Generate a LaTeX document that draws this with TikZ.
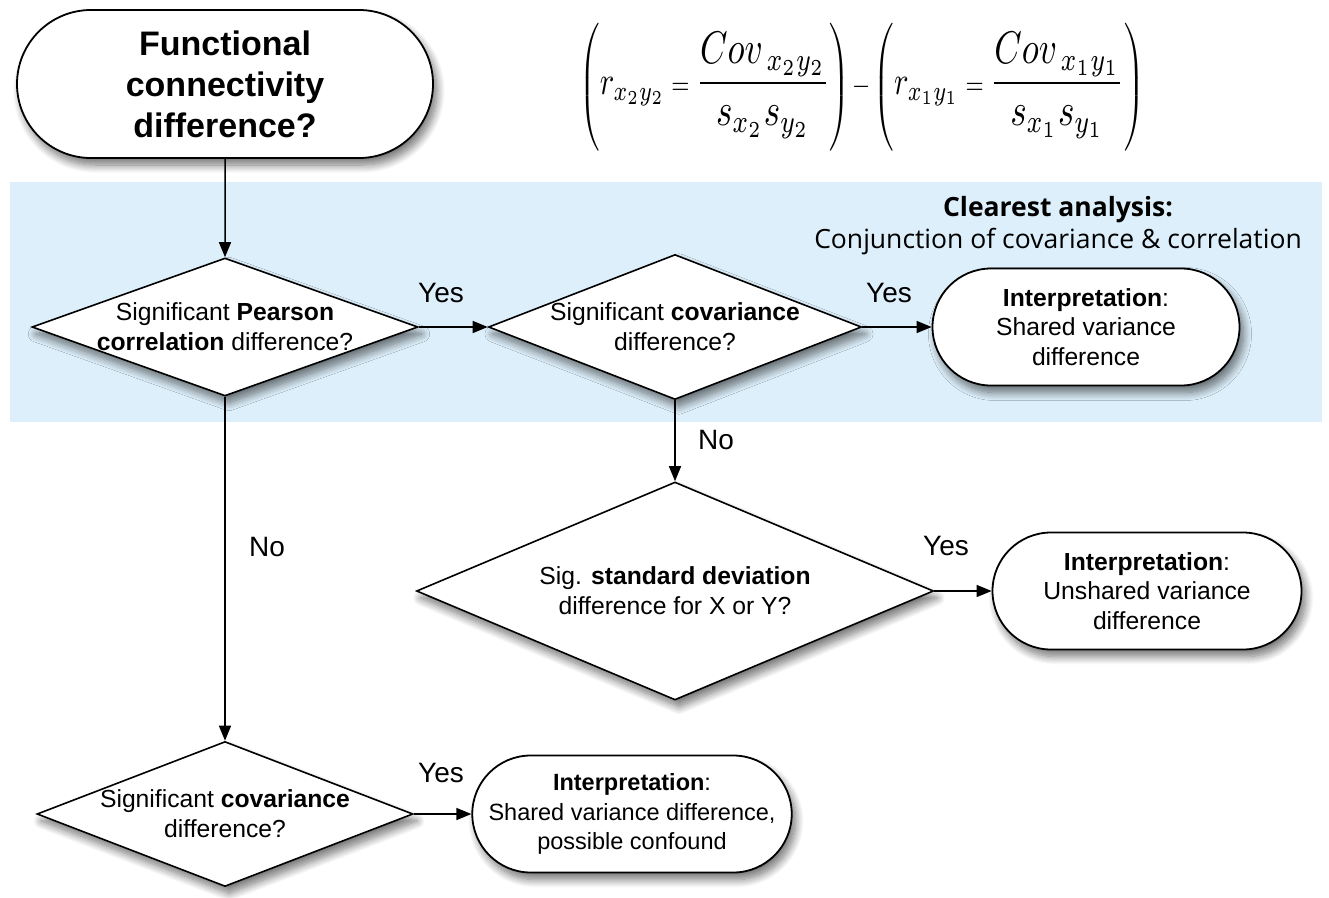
\documentclass[tikz,border=0pt]{standalone}
\usepackage[no-math]{fontspec}
\usepackage{graphicx}
\setmainfont{Liberation Sans}
\newfontfamily\opensans{Open Sans}
\usetikzlibrary{shapes.geometric,shapes.misc,arrows.meta,shadows.blur}
\definecolor{band}{RGB}{221,239,250}
\newcommand{\myfrac}[2]{\scalebox{1.5}{$\displaystyle\frac{#1}{#2}$}}
\newcommand{\myr}[1]{\scalebox{1.3}{$r_{#1}$}}
\begin{document}
\begin{tikzpicture}[x=1pt,y=-1pt,
  shd/.style={blur shadow={shadow xshift=4pt,shadow yshift=-7pt,shadow blur steps=12,shadow blur radius=8pt,shadow opacity=55}},
  pill/.style={rounded rectangle, draw=black, line width=1.8pt, fill=white, shd, inner sep=0pt, align=center, font=\fontsize{24.7}{29.5}\selectfont},
  dec/.style={diamond, draw=black, line width=1.6pt, fill=white, shd, inner sep=0pt},
  dtext/.style={align=center, font=\fontsize{24.7}{30}\selectfont},
  arr/.style={line width=1.5pt, -{Triangle[length=15pt,width=12pt]}},
  lbl/.style={font=\fontsize{28}{30}\selectfont}
]
\useasboundingbox (0,0) rectangle (1329,897);
\fill[band] (10,182) rectangle (1322,422);

% title and formula
\node[pill, minimum width=416pt, minimum height=148pt, font=\bfseries\fontsize{34}{41}\selectfont] (start) at (225,84)
  {Functional\\connectivity\\difference?};
\node[inner sep=0pt] (eq) at (862,87) {\resizebox*{565pt}{128pt}{$\displaystyle
  \left(\rule[-17.5pt]{0pt}{40pt} \myr{x_2y_2} = \myfrac{Cov_{\,x_2y_2}}{s_{x_2}s_{y_2}}\right)\mkern-2mu - \mkern-2mu\left(\rule[-17.5pt]{0pt}{40pt} \myr{x_1y_1}=\myfrac{Cov_{\,x_1y_1}}{s_{x_1}s_{y_1}}\right)$}};

\node[font=\opensans\fontsize{26.5}{32}\selectfont, align=center] (clear) at (1058,226)
  {\textbf{Clearest analysis:}\\Conjunction of covariance \& correlation};

% decisions
\node[dec, minimum width=386pt, minimum height=138pt,
  label={[dtext]center:{Significant \textbf{Pearson}\\\textbf{correlation} difference?}}] (d1) at (225,327) {};
\node[dec, minimum width=373pt, minimum height=145pt,
  label={[dtext]center:{Significant \textbf{covariance}\\difference?}}] (d2) at (675,327) {};
\node[dec, minimum width=517pt, minimum height=218pt,
  label={[dtext]center:{Sig. \textbf{standard deviation}\\difference for X or Y?}}] (d3) at (675,591) {};
\node[dec, minimum width=376pt, minimum height=145pt,
  label={[dtext]center:{Significant \textbf{covariance}\\difference?}}] (d4) at (225,814) {};

% interpretations
\node[pill, minimum width=307pt, minimum height=117pt] (i1) at (1086,327)
  {\textbf{Interpretation}:\\Shared variance\\difference};
\node[pill, minimum width=309pt, minimum height=117pt] (i2) at (1147,591)
  {\textbf{Interpretation}:\\Unshared variance\\difference};
\node[pill, minimum width=291pt, minimum height=117pt, font=\fontsize{23.5}{29.5}\selectfont] (i3) at (632,814)
  {\textbf{Interpretation}:\\Shared variance difference,\\possible confound};

% connectors
\draw[arr] (start) -- (d1);
\draw[arr] (d1.east) -- (d2.west);
\draw[arr] (d2.east) -- (i1.west);
\draw[arr] (d2.south) -- (d3.north);
\draw[arr] (d3.east) -- (i2.west);
\draw[arr] (d1.south) -- (d4.north);
\draw[arr] (d4.east) -- (i3.west);

% labels
\node[lbl] (y1) at (441,293) {Yes};
\node[lbl] (y2) at (889,293) {Yes};
\node[lbl] (n1) at (716,440) {No};
\node[lbl] (y3) at (946,546) {Yes};
\node[lbl] (n2) at (267,547) {No};
\node[lbl] (y4) at (441,773) {Yes};
\end{tikzpicture}
\end{document}
